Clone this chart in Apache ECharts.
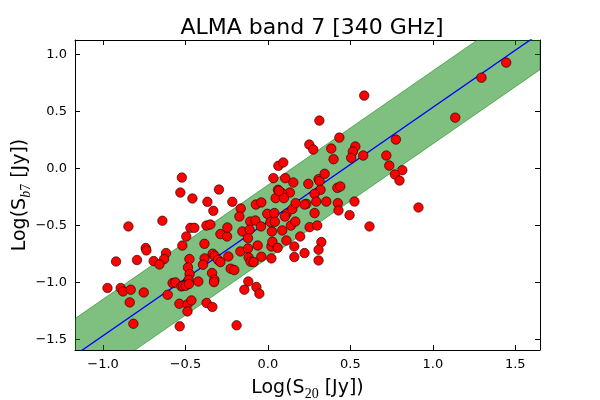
<!DOCTYPE html>
<html>
<head>
<meta charset="utf-8">
<script src="https://cdn.jsdelivr.net/npm/echarts@6/dist/echarts.min.js"></script>
<style>
  html, body { margin: 0; padding: 0; background: #fff; }
  #chart { width: 600px; height: 400px; }
</style>
</head>
<body>
<div id="chart"></div>
<script>
// log S20 / log Sb7 pairs
const logS20 = [
  -0.522, -0.531, -0.458, -0.297, -0.367, -0.216, -0.331, -0.165, -0.073, -0.040,
  -0.173, -0.004, -0.846, -0.640, -0.470, -0.446, -0.373, -0.349, -0.288, -0.248,
  -0.246, -0.107, -0.076, -0.155, -0.111, -0.042, 0.015, 0.024, -0.121, -0.495,
  -0.519, -0.385, -0.741, -0.737, -0.618, -0.630, -0.693, -0.658, -0.794, -0.921,
  -0.476, -0.384, -0.335, -0.323, -0.303, -0.288, -0.240, -0.167, -0.121, -0.117,
  -0.105, -0.087, -0.040, 0.021, -0.062, 0.021, -0.485, -0.475, -0.481, -0.394,
  -0.339, -0.325, -0.327, -0.422, -0.226, -0.204, -0.578, -0.561, -0.525, -0.515,
  -0.499, -0.479, -0.608, -0.753, -0.893, -0.879, -0.832, -0.973, -0.838, -0.816,
  -0.537, -0.488, -0.464, -0.488, -0.372, -0.337, -0.535, -0.190, -0.143, -0.119,
  -0.070, -0.052,
  0.584, 0.312, 0.433, 0.251, 0.275, 0.384, 0.530, 0.515, 0.505, 0.578,
  0.398, 0.776, 0.718, 0.736, 0.815, 0.770, 0.798, 1.136, 1.295, 1.445,
  0.063, 0.093, 0.033, 0.105, 0.154, 0.245, 0.307, 0.313, 0.344, 0.421,
  0.439, 0.319, 0.283, 0.233, 0.293, 0.354, 0.424, 0.525, 0.428, 0.495,
  0.616, 0.283, 0.253, 0.299, 0.324, 0.307, 0.307, 0.222, 0.913, 0.160,
  0.160, 0.196, 0.112, 0.027, 0.059, 0.087, 0.139, 0.166, 0.039, 0.042,
  0.113, 0.103, 0.148, 0.222, 0.168, 0.133, 0.047, 0.085, 0.061, 0.097,
  0.067
];
const logSb7 = [
  -0.080, -0.211, -0.263, -0.185, -0.292, -0.292, -0.371, -0.351, -0.316, -0.298,
  -0.421, -0.397, -0.508, -0.458, -0.520, -0.520, -0.500, -0.491, -0.575, -0.596,
  -0.517, -0.465, -0.456, -0.552, -0.537, -0.508, -0.470, -0.552, -0.610, -0.596,
  -0.675, -0.660, -0.697, -0.718, -0.741, -0.794, -0.811, -0.841, -0.802, -0.815,
  -0.794, -0.788, -0.747, -0.765, -0.800, -0.820, -0.771, -0.727, -0.701, -0.780,
  -0.817, -0.820, -0.773, -0.788, -0.675, -0.683, -0.867, -0.925, -0.975, -0.843,
  -0.916, -0.975, -0.995, -0.990, -0.878, -0.890, -1.004, -0.998, -1.033, -1.027,
  -1.027, -1.012, -1.106, -1.086, -1.047, -1.077, -1.062, -1.047, -1.173, -1.360,
  -1.185, -1.191, -1.156, -1.252, -1.178, -1.213, -1.383, -1.374, -1.062, -0.990,
  -1.039, -1.097,
  0.638, 0.419, 0.270, 0.209, 0.165, 0.174, 0.192, 0.148, 0.093, 0.113,
  0.081, 0.253, 0.113, 0.025, -0.015, -0.053, -0.106, 0.445, 0.795, 0.927,
  0.023, 0.052, -0.085, -0.085, -0.123, -0.135, -0.094, -0.111, -0.047, -0.170,
  -0.158, -0.187, -0.222, -0.310, -0.290, -0.290, -0.304, -0.290, -0.368, -0.409,
  -0.508, -0.391, -0.514, -0.500, -0.645, -0.712, -0.806, -0.741, -0.342, -0.683,
  -0.776, -0.596, -0.631, -0.642, -0.695, -0.543, -0.500, -0.465, -0.391, -0.467,
  -0.397, -0.421, -0.356, -0.316, -0.304, -0.211, -0.260, -0.216, -0.187, -0.260,
  -0.196
];

// fitted relation and its scatter band, at the two ends of the x range
const fitX = [-1.17, 1.65];
const fitY = [-1.635, 1.185];
const bandLow = [-1.955, 0.865];
const bandHigh = [-1.315, 1.505];

const tickFmt = (v) => v.toFixed(1).replace("-", "\u2212");

const chart = echarts.init(document.getElementById("chart"));

const frameAxis = {
  type: "value",
  axisLine: { show: true, onZero: false, lineStyle: { color: "#000", width: 1 } },
  axisTick: { show: true, inside: true, length: 5, lineStyle: { color: "#000" } },
  splitLine: { show: false },
};

chart.setOption({
  animation: false,
  title: {
    text: "ALMA band 7 [340 GHz]",
    left: 307,
    top: 12,
    textAlign: "center",
    textStyle: { fontFamily: "DejaVu Sans", fontSize: 22, fontWeight: "normal", color: "#000" },
  },
  grid: { left: 75, right: 60, top: 40, bottom: 50, outerBoundsMode: "none" },
  xAxis: [
    {
      ...frameAxis,
      position: "bottom",
      min: -1.17,
      max: 1.65,
      axisLabel: {
        margin: 8,
        color: "#000",
        fontFamily: "DejaVu Sans",
        fontSize: 13,
        showMinLabel: false,
        showMaxLabel: false,
        formatter: tickFmt,
      },
      name: "{m|Log(S}{s|20}{m| [Jy])}",
      nameLocation: "middle",
      nameGap: 25,
      nameTextStyle: {
        rich: {
          m: { fontFamily: "DejaVu Sans", fontSize: 19, color: "#000" },
          s: { fontFamily: "Liberation Serif", fontSize: 14, color: "#000", padding: [12, 0, 0, 0] },
        },
      },
    },
    {
      ...frameAxis,
      position: "top",
      min: -1.17,
      max: 1.65,
      axisLabel: { show: false },
    },
  ],
  yAxis: [
    {
      ...frameAxis,
      position: "left",
      min: -1.59,
      max: 1.125,
      axisLabel: {
        margin: 8,
        color: "#000",
        fontFamily: "DejaVu Sans",
        fontSize: 13,
        showMinLabel: false,
        showMaxLabel: false,
        formatter: tickFmt,
      },
      name: "{m|Log(S}{si|b}{s|7}{m| [Jy])}",
      nameLocation: "middle",
      nameRotate: 90,
      nameGap: 42,
      nameMoveOverlap: false,
      nameTextStyle: {
        rich: {
          m: { fontFamily: "DejaVu Sans", fontSize: 19, color: "#000" },
          si: { fontFamily: "Liberation Serif", fontStyle: "italic", fontSize: 14, color: "#000", padding: [12, 0, 0, 0] },
          s: { fontFamily: "Liberation Serif", fontSize: 14, color: "#000", padding: [12, 0, 0, 0] },
        },
      },
    },
    {
      ...frameAxis,
      position: "right",
      min: -1.59,
      max: 1.125,
      axisLabel: { show: false },
    },
  ],
  series: [
    {
      type: "custom",
      z: 1,
      silent: true,
      data: [0],
      renderItem: (params, api) => {
        const pts = [];
        fitX.forEach((x, i) => pts.push(api.coord([x, bandHigh[i]])));
        for (let i = fitX.length - 1; i >= 0; i--) pts.push(api.coord([fitX[i], bandLow[i]]));
        const cs = params.coordSys;
        return {
          type: "group",
          clipPath: { type: "rect", shape: { x: cs.x, y: cs.y, width: cs.width, height: cs.height } },
          children: [
            {
              type: "polygon",
              shape: { points: pts },
              style: { fill: "rgba(0,128,0,0.5)", stroke: "rgba(0,128,0,0.5)", lineWidth: 1 },
            },
          ],
        };
      },
    },
    {
      type: "line",
      z: 2,
      data: fitX.map((x, i) => [x, fitY[i]]),
      symbol: "none",
      lineStyle: { color: "#0000ff", width: 1.3 },
    },
    {
      type: "scatter",
      z: 3,
      data: logS20.map((x, i) => [x, logSb7[i]]),
      symbol: "circle",
      symbolSize: 9.5,
      itemStyle: { color: "#ff0000", borderColor: "#000", borderWidth: 0.6, opacity: 1 },
    },
  ],
});
</script>
</body>
</html>
